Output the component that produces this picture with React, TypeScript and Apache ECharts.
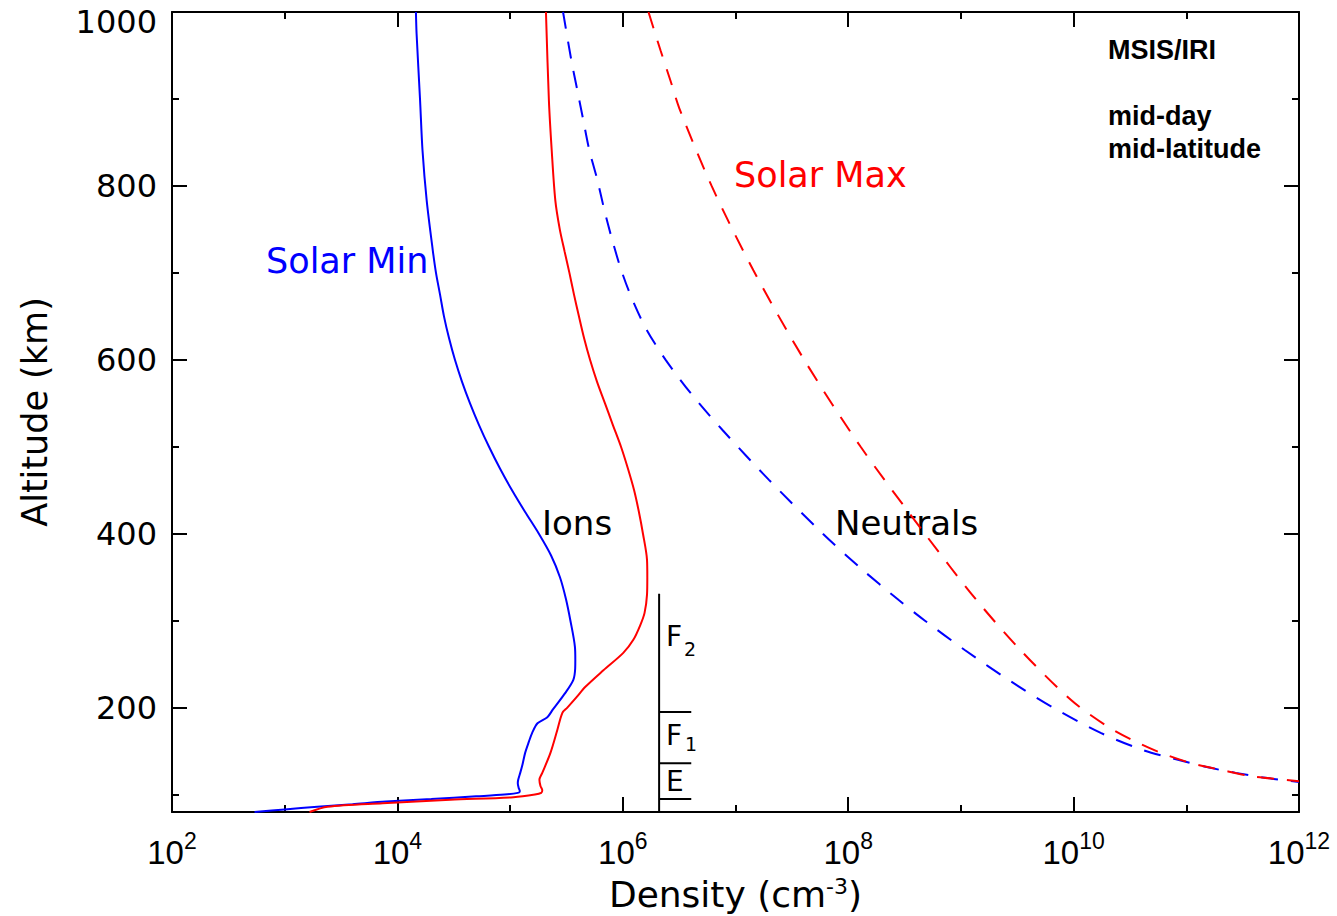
import React, { useEffect, useRef } from "react";
import * as echarts from "echarts";

// ---------- data (altitude in km, density in cm^-3) ----------
const ionAltSolarMin = [80, 83, 86, 89, 92, 95, 98, 100, 102, 104, 108, 113, 117, 125, 135, 148, 160, 171, 182, 189, 198, 217, 232, 245, 255, 270, 300, 325, 350, 375, 400, 425, 450, 475, 500, 525, 550, 575, 600, 625, 650, 675, 700, 726, 783, 841, 898, 975, 1000];
const ionDensitySolarMin = [5.4e2, 1.0e3, 1.95e3, 4.0e3, 7.9e3, 2.0e4, 5.0e4, 8.9e4, 1.17e5, 1.22e5, 1.19e5, 1.17e5, 1.18e5, 1.23e5, 1.29e5, 1.36e5, 1.46e5, 1.57e5, 1.75e5, 2.14e5, 2.4e5, 3.09e5, 3.64e5, 3.78e5, 3.79e5, 3.76e5, 3.43e5, 3.13e5, 2.77e5, 2.31e5, 1.8e5, 1.36e5, 1.04e5, 8.13e4, 6.5e4, 5.3e4, 4.41e4, 3.74e4, 3.24e4, 2.87e4, 2.59e4, 2.39e4, 2.2e4, 2.06e4, 1.82e4, 1.67e4, 1.59e4, 1.48e4, 1.46e4];

const ionAltSolarMax = [80, 86, 90, 94, 97, 100, 102, 105, 110, 117, 125, 148, 174, 194, 200, 212, 224, 243, 263, 278, 295, 309, 330, 350, 370, 400, 425, 450, 475, 500, 525, 550, 575, 600, 625, 650, 675, 700, 725, 750, 783, 841, 898, 1000];
const ionDensitySolarMax = [1.66e3, 2.4e3, 7.4e3, 2.95e4, 1.07e5, 1.66e5, 1.89e5, 1.93e5, 1.86e5, 1.82e5, 1.93e5, 2.28e5, 2.62e5, 2.91e5, 3.22e5, 3.89e5, 4.66e5, 6.73e5, 1.01e6, 1.24e6, 1.43e6, 1.56e6, 1.64e6, 1.65e6, 1.64e6, 1.51e6, 1.39e6, 1.26e6, 1.11e6, 9.64e5, 8.17e5, 6.95e5, 5.9e5, 5.12e5, 4.53e5, 4.08e5, 3.69e5, 3.36e5, 3.04e5, 2.76e5, 2.52e5, 2.34e5, 2.21e5, 2.08e5];

const neutralAltSolarMin = [1000, 944, 910, 875, 841, 807, 772, 737, 703, 671, 635, 600, 560, 519, 462, 400, 360, 324, 300, 266, 230, 200, 171, 151, 141, 132, 125, 119, 114.5];
const neutralDensitySolarMin = [2.95e5, 3.5e5, 3.95e5, 4.47e5, 5.05e5, 5.94e5, 6.87e5, 8.09e5, 9.7e5, 1.2e6, 1.62e6, 2.4e6, 4.1e6, 7.7e6, 1.98e7, 5.96e7, 1.3e8, 2.79e8, 4.8e8, 1.09e9, 2.79e9, 6.6e9, 1.74e10, 4.17e10, 7.94e10, 1.48e11, 2.75e11, 5.25e11, 1.0e12];

const neutralAltSolarMax = [1000, 956, 921, 889, 800, 703, 600, 500, 400, 324, 266, 209, 180, 163, 148, 136, 128, 121, 117, 115.5];
const neutralDensitySolarMax = [1.69e6, 2.16e6, 2.65e6, 3.18e6, 6.14e6, 1.44e7, 4.07e7, 1.29e8, 4.79e8, 1.37e9, 3.39e9, 9.44e9, 1.91e10, 3.29e10, 5.94e10, 1.12e11, 2.11e11, 3.89e11, 7.67e11, 1.0e12];

// ionospheric layer marker (E / F1 / F2)
const layerBarDensity = 2.1e6;
const layerTickDensity = 4.05e6;
const layerBarBottomAlt = 80;
const layerBarTopAlt = 331;
const layerBoundaryAlts = [195, 136, 95];

// axis tick exponents / altitude range
const densityExpMin = 2;
const densityExpMax = 12;
const altMin = 80;
const altMax = 1000;

const BLUE = "#0000ff";
const RED = "#ff0000";
const HERSHEY = "DejaVu Sans";
const HELV = "Liberation Sans";

function toPairs(dens: number[], alts: number[]) {
  return dens.map((d, i) => [Math.log10(d), alts[i]]);
}

function lineSeries(name: string, data: number[][], color: string, dashed: boolean, smooth: number | boolean = false) {
  return {
    type: "line",
    name,
    data,
    symbol: "none",
    showSymbol: false,
    smooth,
    silent: true,
    clip: true,
    lineStyle: { color, width: 2, type: dashed ? [17, 13] : "solid" },
    itemStyle: { color },
  };
}

const axisCommon = {
  type: "value",
  axisLine: { show: true, onZero: false, lineStyle: { color: "#000", width: 2 } },
  axisTick: { show: true, inside: true, length: 15, lineStyle: { color: "#000", width: 2 } },
  minorTick: { show: true, splitNumber: 2, length: 7, lineStyle: { color: "#000", width: 2 } },
  splitLine: { show: false },
  minorSplitLine: { show: false },
};

function buildOption() {
  const layerSeries: any[] = [];
  layerSeries.push(
    lineSeries("layer bar", [
      [Math.log10(layerBarDensity), layerBarBottomAlt],
      [Math.log10(layerBarDensity), layerBarTopAlt],
    ], "#000", false)
  );
  layerBoundaryAlts.forEach((a, i) => {
    layerSeries.push(
      lineSeries("layer " + i, [
        [Math.log10(layerBarDensity), a],
        [Math.log10(layerTickDensity), a],
      ], "#000", false)
    );
  });

  const textEl = (text: string, x: number, y: number, size: number, color: string, family: string, weight = "normal") => ({
    type: "text",
    x,
    y,
    silent: true,
    style: {
      text,
      fill: color,
      fontSize: size,
      fontFamily: family,
      fontWeight: weight,
      align: "left",
      verticalAlign: "middle",
      textAlign: "left",
      textVerticalAlign: "middle",
    },
  });

  return {
    animation: false,
    backgroundColor: "#ffffff",
    grid: { left: 172, right: 38, top: 12, bottom: 104, containLabel: false, outerBoundsMode: "none" },
    xAxis: [
      {
        ...axisCommon,
        position: "bottom",
        min: densityExpMin,
        max: densityExpMax,
        interval: 2,
        axisLabel: {
          margin: 17,
          color: "#000",
          formatter: (v: number) => `{b|10}{s|${v}}`,
          rich: {
            b: { fontSize: 33, fontFamily: HELV, color: "#000", lineHeight: 46 },
            s: { fontSize: 23, fontFamily: HELV, color: "#000", lineHeight: 18, verticalAlign: "top" },
          },
        },
        name: "{n|Density (cm}{s|-3}{n|)}",
        nameLocation: "middle",
        nameGap: 63,
        nameMoveOverlap: false,
        nameTextStyle: {
          rich: {
            n: { fontSize: 36, fontFamily: HERSHEY, color: "#000", lineHeight: 38 },
            s: { fontSize: 22, fontFamily: HERSHEY, color: "#000", lineHeight: 18, verticalAlign: "top" },
          },
        },
      },
      {
        ...axisCommon,
        position: "top",
        min: densityExpMin,
        max: densityExpMax,
        interval: 2,
        axisLabel: { show: false },
      },
    ],
    yAxis: [
      {
        ...axisCommon,
        position: "left",
        min: altMin,
        max: altMax,
        splitNumber: 5,
        axisLabel: {
          margin: 15,
          color: "#000",
          fontSize: 32,
          fontFamily: HERSHEY,
          formatter: (v: number) => (v === altMin ? "" : v === altMax ? `{t|${v}}` : String(v)),
          rich: {
            t: { fontSize: 32, fontFamily: HERSHEY, color: "#000", padding: [20, 0, 0, 0] },
          },
        },
        name: "Altitude (km)",
        nameLocation: "middle",
        nameGap: 120,
        nameRotate: 90,
        nameMoveOverlap: false,
        nameTextStyle: { fontSize: 35, fontFamily: HERSHEY, color: "#000" },
      },
      {
        ...axisCommon,
        position: "right",
        min: altMin,
        max: altMax,
        splitNumber: 5,
        axisLabel: { show: false },
      },
    ],
    series: [
      lineSeries("Ions Solar Min", toPairs(ionDensitySolarMin, ionAltSolarMin), BLUE, false, 0.3),
      lineSeries("Ions Solar Max", toPairs(ionDensitySolarMax, ionAltSolarMax), RED, false, 0.3),
      lineSeries("Neutrals Solar Min", toPairs(neutralDensitySolarMin, neutralAltSolarMin), BLUE, true, 0.3),
      lineSeries("Neutrals Solar Max", toPairs(neutralDensitySolarMax, neutralAltSolarMax), RED, true, 0.3),
      ...layerSeries,
    ],
    graphic: [
      textEl("Solar Min", 266, 261, 35, BLUE, HERSHEY),
      textEl("Solar Max", 734, 175, 35, RED, HERSHEY),
      textEl("Ions", 542, 523, 34, "#000", HERSHEY),
      textEl("Neutrals", 835, 523, 34, "#000", HERSHEY),
      textEl("MSIS/IRI", 1108, 50, 27, "#000", HELV, "bold"),
      textEl("mid-day", 1108, 116, 27, "#000", HELV, "bold"),
      textEl("mid-latitude", 1108, 149, 27, "#000", HELV, "bold"),
      textEl("F", 666, 636, 28, "#000", HERSHEY),
      textEl("2", 684, 649, 19, "#000", HERSHEY),
      textEl("F", 666, 735, 28, "#000", HERSHEY),
      textEl("1", 685, 744, 19, "#000", HERSHEY),
      textEl("E", 666, 781, 28, "#000", HERSHEY),
    ],
  };
}

export default function App() {
  const ref = useRef<HTMLDivElement>(null);
  useEffect(() => {
    if (!ref.current) return;
    const chart = echarts.init(ref.current, null, { renderer: "svg" });
    chart.setOption(buildOption() as any);
    return () => chart.dispose();
  }, []);
  return (
    <div
      ref={ref}
      style={{ position: "fixed", left: 0, top: 0, width: 1337, height: 916, background: "#ffffff" }}
    />
  );
}
